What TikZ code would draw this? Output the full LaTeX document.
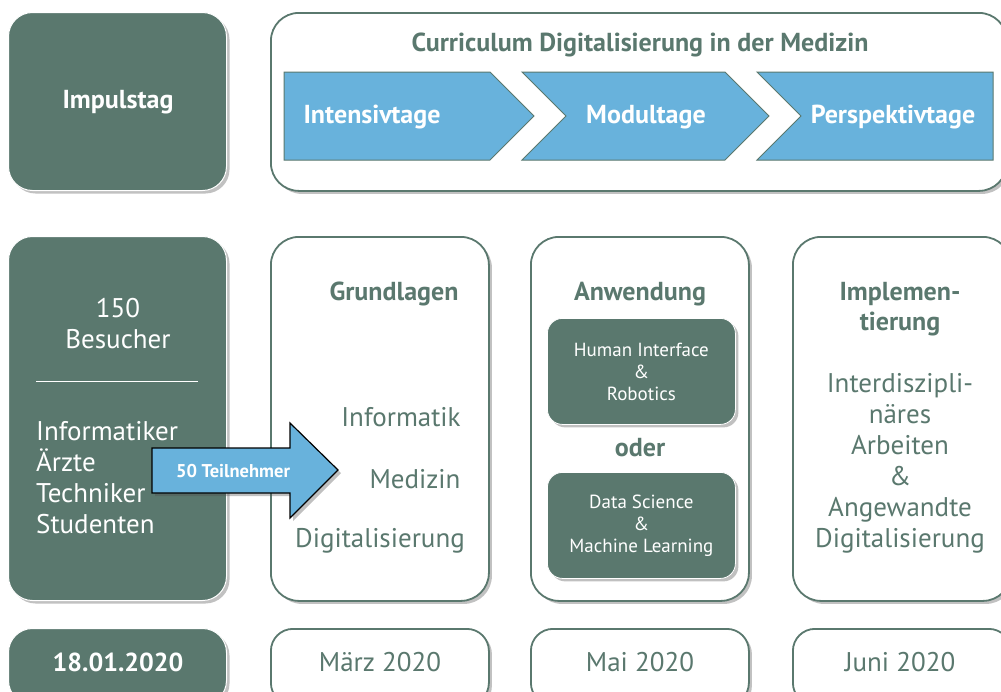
\documentclass[tikz,border=0pt]{standalone}
\usepackage{fontspec}
\setmainfont{PT Sans}
\usetikzlibrary{positioning,shadows}
\definecolor{dkgreen}{RGB}{90,120,110}
\definecolor{skyblue}{RGB}{104,178,220}

\tikzset{
  softshadow/.style={drop shadow={shadow xshift=3pt,shadow yshift=-3pt,opacity=0.35,fill=black!70}},
  darkbox/.style={draw=white, line width=1pt, fill=dkgreen, rounded corners=24pt, softshadow,
    minimum width=218pt, anchor=north west, inner sep=0pt},
  lightbox/.style={draw=dkgreen, line width=1.8pt, fill=white, rounded corners=28pt, softshadow,
    minimum width=218pt, anchor=north west, inner sep=0pt},
  innerbox/.style={draw=white, line width=0.8pt, fill=dkgreen, rounded corners=15pt, softshadow,
    minimum width=188pt, minimum height=106pt, anchor=north west, inner sep=0pt},
  chevron/.style={draw=dkgreen, line width=1pt, fill=skyblue},
  headtext/.style={font=\fontsize{26}{30}\selectfont\bfseries, text=dkgreen, align=center},
  bodytext/.style={font=\fontsize{27}{31}\selectfont, text=dkgreen, align=center},
  whitehead/.style={font=\fontsize{26}{31}\selectfont\bfseries, text=white, align=center},
  whitebody/.style={font=\fontsize{27}{31}\selectfont, text=white},
  smalltext/.style={font=\fontsize{19}{22}\selectfont, text=white, align=center},
}

\begin{document}
\begin{tikzpicture}[x=1pt,y=-1pt]
  \useasboundingbox (0,0) rectangle (1001,691);
  \clip (0,0) rectangle (1001,691);

  % top row
  \node[darkbox, minimum height=178pt] (impuls) at (8,12) {};
  \node[whitehead] (impulstitle) at (118,102) {Impulstag};
  \node[lightbox, minimum width=736pt, minimum height=178pt] (curriculum) at (270,12) {};
  \node[headtext] (currtitle) at (640,45) {Curriculum Digitalisierung in der Medizin};

  % phases
  \draw[chevron] (284,72) -- (490,72) -- (534,116) -- (490,160) -- (284,160) -- cycle;
  \draw[chevron] (522,72) -- (725,72) -- (769,116) -- (725,160) -- (522,160) -- (566,116) -- cycle;
  \draw[chevron] (757,72) -- (993,72) -- (993,160) -- (757,160) -- (801,116) -- cycle;
  \node[whitehead] (intensiv) at (372,117) {Intensivtage};
  \node[whitehead] (modul) at (646,117) {Modultage};
  \node[whitehead] (perspektiv) at (893,117) {Perspektivtage};

  % middle row
  \node[darkbox, minimum height=364pt] (besucher) at (8,236) {};
  \node[whitebody, align=center] (anzahl) at (118,324) {150\\Besucher};
  \draw[white, line width=0.8pt] (36,381) -- (198,381);
  \node[whitebody, align=left, anchor=west, inner sep=0pt] (gruppen) at (36,478)
    {Informatiker\\Ärzte\\Techniker\\Studenten};

  \node[lightbox, minimum height=364pt] (grundlagen) at (270,236) {};
  \node[headtext] (grundtitle) at (394,294) {Grundlagen};
  \node[bodytext] (informatik) at (401,417) {Informatik};
  \node[bodytext] (medizin) at (415,479) {Medizin};
  \node[bodytext] (digital) at (380,541) {Digitalisierung};

  \node[lightbox, minimum height=364pt] (anwendung) at (530,236) {};
  \node[headtext] (anwtitle) at (640,294) {Anwendung};
  \node[innerbox] (human) at (547,318) {};
  \node[smalltext] at (human.center) {Human Interface\\\&\\Robotics};
  \node[headtext] (oder) at (640,448) {oder};
  \node[innerbox] (data) at (547,472) {};
  \node[smalltext] at (data.center) {Data Science\\\&\\Machine Learning};

  \node[lightbox, minimum height=364pt] (implement) at (792,236) {};
  \node[headtext] (impltitle) at (900,309) {Implemen-\\tierung};
  \node[bodytext] (impltext) at (900,463)
    {Interdiszipli-\\näres\\Arbeiten\\\&\\Angewandte\\Digitalisierung};

  % participants
  \draw[fill=skyblue, draw=black, line width=1.2pt, softshadow]
    (152,448) -- (290,448) -- (290,423) -- (338,470) -- (290,518) -- (290,493) -- (152,493) -- cycle;
  \node[font=\fontsize{18.5}{20}\selectfont\bfseries, text=white] (teilnehmer) at (233,471) {50 Teilnehmer};

  % bottom row
  \node[darkbox, minimum height=76pt] (datum) at (8,628) {};
  \node[whitehead] at (118,662) {18.01.2020};
  \node[lightbox, rounded corners=22pt, minimum height=76pt] (maerz) at (270,628) {};
  \node[bodytext] at (380,662) {März 2020};
  \node[lightbox, rounded corners=22pt, minimum height=76pt] (mai) at (530,628) {};
  \node[bodytext] at (640,662) {Mai 2020};
  \node[lightbox, rounded corners=22pt, minimum height=76pt] (juni) at (792,628) {};
  \node[bodytext] at (900,662) {Juni 2020};
\end{tikzpicture}
\end{document}
